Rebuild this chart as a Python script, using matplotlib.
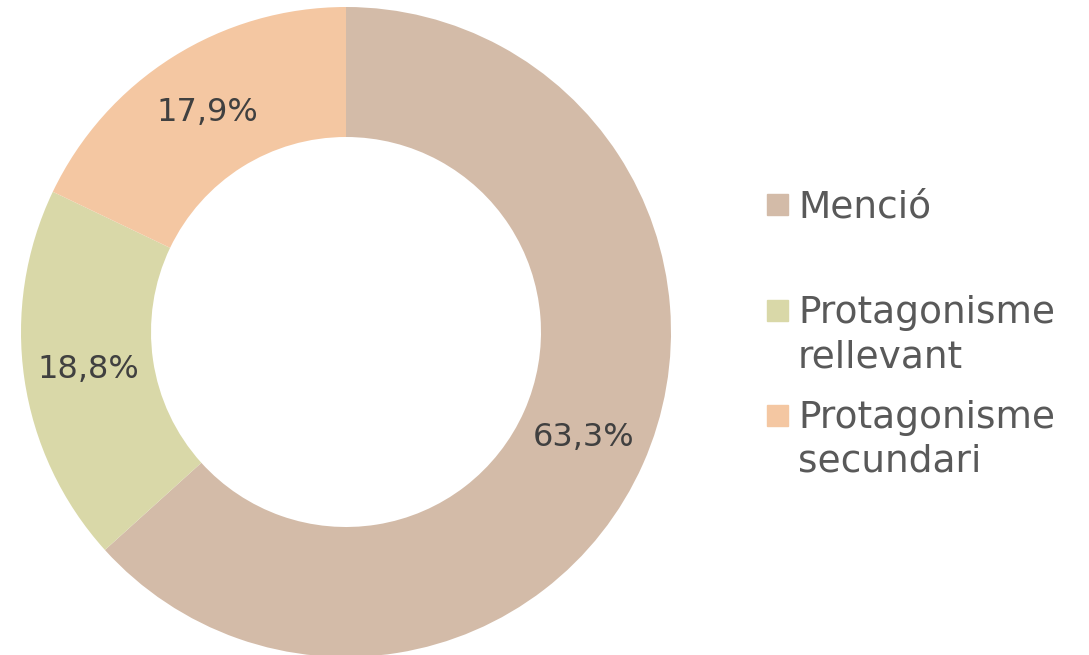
import numpy as np
import matplotlib.pyplot as plt
from matplotlib.patches import Rectangle

labels = ["Menció", "Protagonisme\nrellevant", "Protagonisme\nsecundari"]
values = [63.3, 18.8, 17.9]
pct_text = ["63,3%", "18,8%", "17,9%"]
colors = ["#D3BBA8", "#D9D8A8", "#F4C7A2"]

W, H = 1089, 655
fig = plt.figure(figsize=(W / 100, H / 100), dpi=100)

# donut centred at (346, 332) px from top, outer radius 325 px
R = 325
cx, cy = 346, H - 332
ax = fig.add_axes([(cx - R) / W, (cy - R) / H, 2 * R / W, 2 * R / H])
wedges, _ = ax.pie(values, colors=colors, startangle=90, counterclock=False,
                   radius=1, wedgeprops=dict(width=0.4, linewidth=0))
ax.set_xlim(-1, 1)
ax.set_ylim(-1, 1)
ax.set_aspect("equal")
ax.axis("off")

# percentage labels at 0.8 of the radius
for w, t in zip(wedges, pct_text):
    ang = np.deg2rad((w.theta1 + w.theta2) / 2)
    ax.text(0.8 * np.cos(ang), 0.8 * np.sin(ang), t, ha="center", va="center",
            fontsize=23, color="#404040")

# legend drawn by hand: marker on the first line, pixel baselines from top
box_top = [194, 300, 405]
baselines = [[217], [323, 367], [428, 472]]
for top, bl, lab, c in zip(box_top, baselines, labels, colors):
    fig.patches.append(Rectangle((767 / W, (H - top - 21) / H), 21 / W, 21 / H,
                                 transform=fig.transFigure, color=c))
    for y, line in zip(bl, lab.split("\n")):
        fig.text(798 / W, (H - y) / H, line, ha="left", va="baseline",
                 fontsize=27, color="#595959")

fig.savefig("out.png", dpi=100)
